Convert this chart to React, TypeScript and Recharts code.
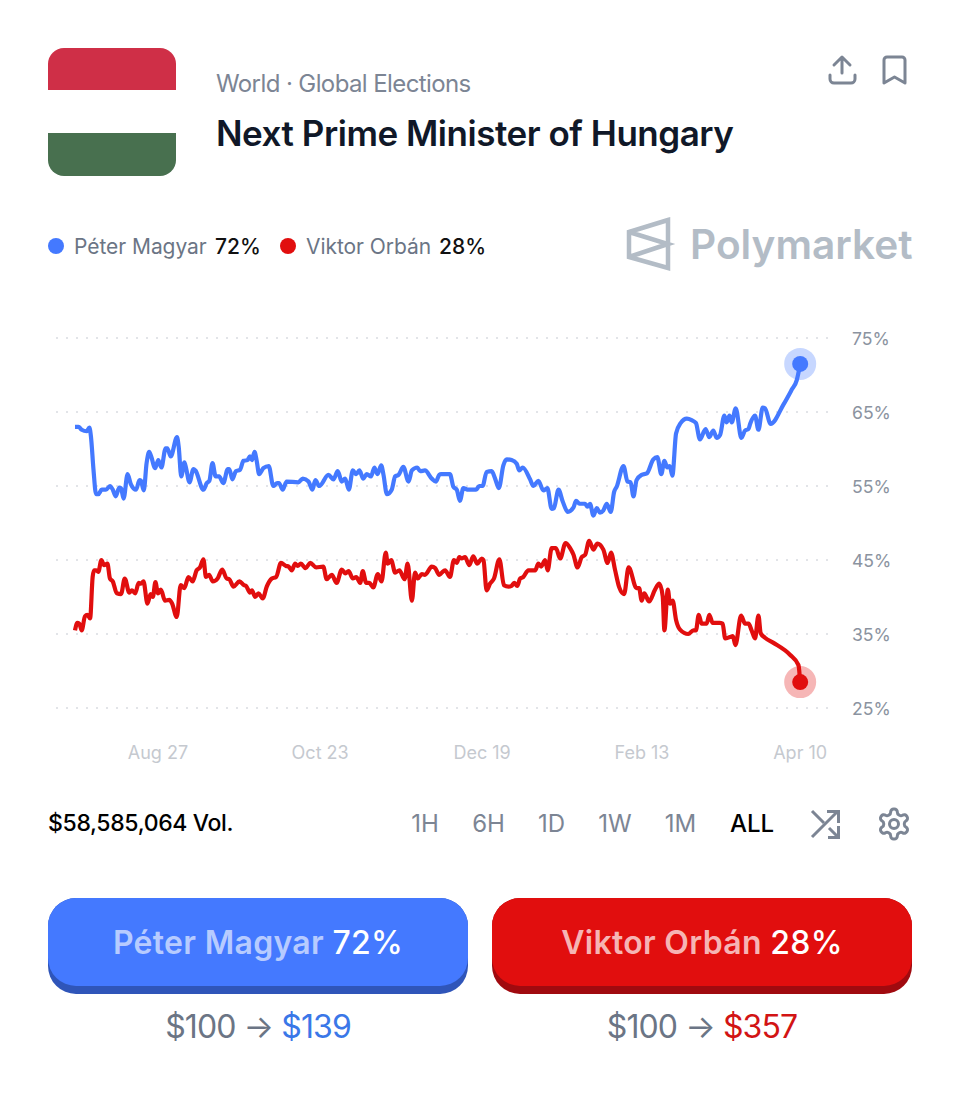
import React from "react";
import { LineChart, Line, XAxis, YAxis, CartesianGrid } from "recharts";

const FONT = "Inter, 'Noto Sans', sans-serif";

const magyarDays = [0,1.2,2.35,4.1,5.05,5.6,6.5,7.4,8.2,9.4,10.9,12.3,13.3,14.3,15.6,16.2,17.1,18.5,19.6,21.5,22.7,23.2,24.2,25.2,26.1,26.8,28.2,29.3,30.4,31.9,32.5,33.7,35.9,36.5,37.4,38.5,39.1,40.3,41.7,42.4,45.2,46.4,47.3,48.4,49.5,50.7,52.2,53.8,54.3,55.4,56.6,58.1,59.3,60.7,61.6,62.3,63.2,64,64.8,66.3,68.2,69.8,71.2,71.8,73.1,74.5,78.6,80.2,82.2,83.6,84.6,86,89.2,91,92.5,93.9,95.1,96.4,97.8,99,100.1,101.5,102.7,104.2,105.4,106.5,107.8,108.6,109.8,111.5,112.7,113.9,115.6,117.4,118.6,120.5,121.5,123.2,125.6,127.1,128.2,
128.9,132,133.2,134.4,135.5,136.7,138.5,141.2,142.3,143.5,144.9,146.7,147.9,149.2,150.8,152,153.7,155.5,156.4,157.6,160.2,161.4,163.1,164.9,166.3,167.8,168.6,170.2,171.7,173.5,175.5,176.4,177.6,179.6,180.4,181.3,182.5,183.7,184.8,186,187.2,188.6,189.8,190.7,193.1,194.5,195.6,196.6,197.7,199.5,201.3,203.6,205,206.4,207.5,208.5,209.4,210.3,211.6,213.2,215.4,217.1,218.6,220,222,223.3,224.7,225.9,227.1,228.6,229.4,230.4,231.2,232.6,234.6,235.9,237.1,237.7,239.4,240.6,242.1,242.9,244.9,249.4,252.3,254.1,255.3];
const magyarValues = [63,63,62.6,62.4,62.9,61.7,57.2,53.9,53.9,54.5,54.5,55,54.5,53.6,54.8,54.7,53.3,56.6,55.3,54.5,55.8,55.7,54.4,58.1,59.6,59,57.4,58.5,57.5,60.1,60.1,59,61.6,60.3,56.3,58.2,57.4,55.5,57.3,57.1,54.5,55.4,55.7,58.1,56.3,56.3,55.4,57.3,57.3,55.9,57,57.2,58.4,58.5,59,58.5,59.6,58.3,56.6,57.4,57.7,55,55.4,55.4,54.5,55.6,55.5,56,55.6,54.5,55.8,55,56.5,55.9,57,55.6,56,54.5,57.1,56.6,57.1,56,56.6,56.3,57.5,56.6,57.8,56.5,53.9,54.5,56.3,56.5,57.6,55.6,57.1,57.5,57,57.1,56,55.6,56.5,
56.6,56.6,54.9,54.5,53,54.7,54.5,54.5,55,55,56.9,57,56,54.7,57.8,58.6,58.5,58,57.1,57.5,55.9,55,55.7,54.4,54.7,51.9,52,54.5,52.9,51.5,52.1,53,52.6,52.6,52.2,52.6,51,52,51.4,51.7,52.6,51.5,54.2,54.9,57.7,55.6,55.5,53.6,55.8,56.5,56.7,58.6,58.9,56.6,58.4,57.5,57.7,56.4,62.1,63.5,64.1,63.9,63.5,61.3,62.7,61.6,62.5,61.5,61.9,64.5,63.6,64.5,63.6,65.5,61.5,62.5,62.7,63.4,64.5,62.6,65.6,65.5,63.4,66,68,69.3,71.5];

const orbanDays = [0,0.8,1.5,2.35,3.5,4.35,5.3,6.2,6.7,7.4,8.2,9.3,10.2,11.4,12.3,13.3,14.7,16.2,17.5,19.1,20,21.2,22.4,23.2,24.1,25.5,26.6,27.4,28.3,29.2,30.2,31.7,33.2,34.2,35.8,37.2,38.5,39.9,41.4,42.8,44,45.2,46.1,47.2,48.5,50.2,51.8,53.4,54.3,55.8,57.9,59.5,60.2,61.6,62.3,63.4,64.6,66.1,67.5,69.3,70.8,72.5,74.3,75.2,76.3,77.5,78.4,79.5,81.2,82.8,84.9,87.4,88.6,90.4,92.1,93.9,95.2,96.3,97.8,99,100.4,101.3,102.5,103.6,105,106.6,107.9,109.4,110.1,111.3,112.7,114.2,116,117.1,118.6,119.7,120.7,122.1,123.2,125.6,126.8,128.2,
128.9,130.3,132,133.4,134.4,135.3,136.1,137.3,138.8,140.2,141.6,143.2,143.8,144.9,146.1,147.5,149.4,151,152.6,153.7,154.6,155.7,156.7,157.8,159.6,162,163.1,164.1,165.5,166.4,167.8,169.3,170.8,172.7,174.3,175.5,176.9,178.4,179.6,181,182.5,183.9,186,187.5,188.7,190.1,191.6,193.3,194.9,197.7,198.6,199.5,200.4,202.1,204.2,205.7,206.9,207.5,208.7,209.5,210.4,211.6,213,215.9,217.7,218.6,219.6,220.6,222.4,223.3,224.5,226.9,228,228.9,230.6,231.6,232.5,234.5,235.9,237.1,238.2,239.4,240.6,241.4,242.9,245.9,251.7,254.7,255.3];
const orbanValues = [35.5,36.5,36.4,35.5,37.4,37.6,37.1,42.7,43.6,43.6,43.4,45,44.3,44.5,42.5,42.1,40.5,40.4,42.5,40.6,40.9,40.5,41.9,41.8,42.1,39.1,40.4,40,42,40.5,41,39.5,39.6,39.1,37.3,41.6,41.2,42.7,42.1,43.6,44,45.1,42.7,43,42.1,42.5,43.7,42.5,42.4,41.4,42.1,41.6,41.5,40.6,40.9,40,40.5,39.8,41.4,42.5,42.7,44.6,44.2,44.1,43.6,44.5,44.2,44.5,43.9,44.6,44,44.1,42.4,43,41.9,43.7,43.2,43.5,42.5,42.7,41.9,43.5,41.9,41.9,41.3,43.1,42.1,46,44.5,45,43.3,43.6,42.4,44.5,39.5,43.3,42.5,43.1,43,44.1,43.9,43,
43.2,43.6,42.7,45,44.6,45.4,45.2,45.4,44.3,45.5,44.5,45.2,45,40.9,41.8,42.5,45.1,41.6,41.4,41.5,41.9,41.5,42.5,42.7,43.6,43.6,44.5,44.1,45,43.6,46.6,46.6,45.2,47.3,46.6,45.7,44,45.4,45.7,47.6,46.4,47.2,46.4,44.6,46,43.7,41.3,40.4,44,41.2,41.2,39.5,40.5,39.4,41,41.8,40.1,35.5,41,39.1,39.5,36.9,35.6,35,35.5,35.5,37.6,36.4,36.4,37.6,36.5,36.5,36.4,34.4,34.6,34.7,33.5,37.5,36.4,36.4,35.5,34.4,37.5,35.1,34.5,33.8,32.2,30.8,28.5];

const yTicks = [25, 35, 45, 55, 65, 75];
const xTickDays = [29.2, 86.3, 143.3, 199.6, 255.3];
const xTickLabels = ["Aug 27", "Oct 23", "Dec 19", "Feb 13", "Apr 10"];
const ranges = [["1H", 425], ["6H", 488.5], ["1D", 551.5], ["1W", 615], ["1M", 680.5], ["ALL", 752]] as const;

const magyarSeries = magyarDays.map((day, i) => ({ day, value: magyarValues[i] }));
const orbanSeries = orbanDays.map((day, i) => ({ day, value: orbanValues[i] }));

const BLUE = "#4479ff";
const RED = "#e10e0e";

function endDot(color: string, last: number) {
  return (props: any) => {
    if (props.index !== last) return <g key={props.index} />;
    return (
      <g key={props.index}>
        <circle cx={props.cx} cy={props.cy} r={16} fill={color} fillOpacity={0.3} />
        <circle cx={props.cx} cy={props.cy} r={8} fill={color} />
      </g>
    );
  };
}

function T(p: { x: number; y: number; size: number; color: string; weight?: number; center?: boolean; children: React.ReactNode; ls?: number }) {
  return (
    <div
      style={{
        position: "absolute",
        left: p.x,
        top: p.y,
        transform: `translate(${p.center ? "-50%" : "0"}, -50%)`,
        fontFamily: FONT,
        fontSize: p.size,
        fontWeight: p.weight ?? 400,
        color: p.color,
        whiteSpace: "nowrap",
        lineHeight: 1.2,
        letterSpacing: p.ls ?? 0,
      }}
    >
      {p.children}
    </div>
  );
}

function Btn(p: { x: number; face: string; edge: string; name: string; pct: string; nameColor: string }) {
  return (
    <div style={{ position: "absolute", left: p.x, top: 898, width: 420, height: 96, borderRadius: 28, background: p.edge }}>
      <div style={{ position: "absolute", left: 0, top: 0, width: 420, height: 88, borderRadius: 28, background: p.face }} />
      <T x={210} y={45} size={32} weight={600} color={p.nameColor} center ls={0.3}>
        {p.name} <span style={{ color: "#fff", fontWeight: 500 }}>{p.pct}</span>
      </T>
    </div>
  );
}

const ICON = "#7c8594";

export default function App() {
  return (
    <div style={{ position: "absolute", left: 0, top: 0, width: 960, height: 1098, background: "#fff", overflow: "hidden" }}>
      <div style={{ position: "absolute", left: 48, top: 48, width: 128, height: 128, borderRadius: 16, overflow: "hidden" }}>
        <div style={{ height: 42, background: "#cf2f47" }} />
        <div style={{ height: 43, background: "#fff" }} />
        <div style={{ height: 43, background: "#48704f" }} />
      </div>
      <T x={216} y={84} size={24} color="#7c8594" ls={-0.6}>World · Global Elections</T>
      <T x={216} y={133} size={35} weight={600} color="#101828" ls={-0.47}>Next Prime Minister of Hungary</T>

      <svg style={{ position: "absolute", left: 0, top: 0 }} width={960} height={1098} fill="none">
        <g stroke={ICON} strokeWidth={3} strokeLinecap="round" strokeLinejoin="round">
          <path d="M842 73V58M834 65l8-8 8 8" />
          <path d="M830 75v4a4 4 0 0 0 4 4h17a4 4 0 0 0 4-4v-4" />
          <path d="M884 60a3 3 0 0 1 3-3h15a3 3 0 0 1 3 3v23l-10.5-6-10.5 6z" />
          <g strokeLinecap="butt" strokeLinejoin="miter">
            <path d="M812 837l26-26M827 811.500h11.500V823" />
            <path d="M812 811l12 12M829 828l9 9M828 837.500h10.500V826" />
          </g>
          <g transform="translate(876 806) scale(1.5)" strokeWidth={2}>
            <path d="M12.22 2h-.44a2 2 0 0 0-2 2v.18a2 2 0 0 1-1 1.73l-.43.25a2 2 0 0 1-2 0l-.15-.08a2 2 0 0 0-2.73.73l-.22.38a2 2 0 0 0 .73 2.73l.15.1a2 2 0 0 1 1 1.72v.51a2 2 0 0 1-1 1.74l-.15.09a2 2 0 0 0-.73 2.73l.22.38a2 2 0 0 0 2.73.73l.15-.08a2 2 0 0 1 2 0l.43.25a2 2 0 0 1 1 1.73V20a2 2 0 0 0 2 2h.44a2 2 0 0 0 2-2v-.18a2 2 0 0 1 1-1.73l.43-.25a2 2 0 0 1 2 0l.15.08a2 2 0 0 0 2.73-.73l.22-.39a2 2 0 0 0-.73-2.73l-.15-.08a2 2 0 0 1-1-1.74v-.5a2 2 0 0 1 1-1.74l.15-.09a2 2 0 0 0 .73-2.73l-.22-.38a2 2 0 0 0-2.73-.73l-.15.08a2 2 0 0 1-2 0l-.43-.25a2 2 0 0 1-1-1.73V4a2 2 0 0 0-2-2z" />
            <circle cx={12} cy={12} r={3} />
          </g>
        </g>
        <path d="M668 220L629 232V257L668 268ZM629 232L668 244L629 257" stroke="#b3bcc6" strokeWidth={4.5} strokeLinejoin="miter" />
        <circle cx={56} cy={246} r={8} fill={BLUE} />
        <circle cx={288} cy={246} r={8} fill={RED} />
      </svg>

      <T x={74} y={247} size={21} color="#6b7585" ls={-0.05}>Péter Magyar</T>
      <T x={215} y={247} size={21} weight={500} color="#111">72%</T>
      <T x={306} y={247} size={21} color="#6b7585" ls={-0.05}>Viktor Orbán</T>
      <T x={439} y={247} size={21} weight={500} color="#111">28%</T>
      <T x={690} y={245} size={40.6} weight={600} color="#b3bcc6">Polymarket</T>

      <div style={{ position: "absolute", left: 0, top: 0 }}>
        <LineChart width={960} height={780} margin={{ top: 338, left: 56, right: 50, bottom: 22 }}>
          <CartesianGrid horizontal vertical={false} stroke="#e2e4e8" strokeWidth={2} strokeDasharray="2 8" syncWithTicks />
          <XAxis
            type="number"
            dataKey="day"
            domain={[-6.7, 265.8]}
            ticks={xTickDays}
            tickFormatter={(d: number) => xTickLabels[xTickDays.indexOf(d)]}
            axisLine={false}
            tickLine={false}
            tickSize={0}
            tickMargin={38}
            height={50}
            interval={0}
            allowDuplicatedCategory={false}
            tick={{ fontSize: 18, fill: "#c5c9cf", fontFamily: FONT }}
          />
          <YAxis
            type="number"
            orientation="right"
            domain={[25, 75]}
            ticks={yTicks}
            tickFormatter={(v: number) => `${v}%`}
            axisLine={false}
            tickLine={false}
            tickSize={0}
            tickMargin={22}
            width={80}
            interval={0}
            tick={{ fontSize: 17.6, fill: "#8b93a0", fontFamily: FONT, dy: 1 }}
          />
          <Line data={magyarSeries} dataKey="value" type="monotone" stroke={BLUE} strokeWidth={4.2} dot={endDot(BLUE, magyarSeries.length - 1)} activeDot={false} isAnimationActive={false} />
          <Line data={orbanSeries} dataKey="value" type="monotone" stroke={RED} strokeWidth={4.2} dot={endDot(RED, orbanSeries.length - 1)} activeDot={false} isAnimationActive={false} />
        </LineChart>
      </div>

      <T x={48} y={824} size={23} weight={500} color="#000" ls={-0.35}>$58,585,064 Vol.</T>
      {ranges.map(([label, x]) => (
        <T key={label} x={x} y={824} size={24} weight={label === "ALL" ? 500 : 400} color={label === "ALL" ? "#000" : "#7c8594"} center>
          {label}
        </T>
      ))}

      <Btn x={48} face={BLUE} edge="#2f55b9" name="Péter Magyar" pct="72%" nameColor="#b7cbff" />
      <Btn x={492} face={RED} edge="#a00a0f" name="Viktor Orbán" pct="28%" nameColor="#f6b4b4" />
      <T x={258} y={1027} size={32} color="#6b7585" center ls={-0.9}>
        $100 → <span style={{ color: "#3a77e8" }}>$139</span>
      </T>
      <T x={702} y={1027} size={32} color="#6b7585" center ls={-0.9}>
        $100 → <span style={{ color: "#d21414" }}>$357</span>
      </T>
    </div>
  );
}
